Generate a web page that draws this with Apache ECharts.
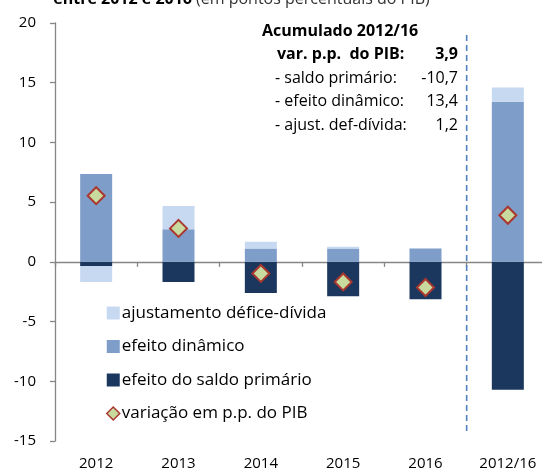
<!DOCTYPE html>
<html>
<head>
<meta charset="utf-8">
<script src="https://cdn.jsdelivr.net/npm/echarts@6/dist/echarts.min.js"></script>
<style>
html,body{margin:0;padding:0;background:#fff;}
#c{width:542px;height:474px;}
</style>
</head>
<body>
<div id="c"></div>
<script>
var categories = ['2012', '2013', '2014', '2015', '2016', '2012/16'];
var saldoPrimario = [-0.34, -1.68, -2.6, -2.88, -3.13, -10.7];
var efeitoDinamico = [7.36, 2.74, 1.12, 1.12, 1.12, 13.4];
var ajustamento = [-1.34, 1.93, 0.56, 0.14, 0, 1.2];
var variacaoPIB = [5.54, 2.8, -0.97, -1.68, -2.15, 3.9];
var yTicks = [-15, -10, -5, 0, 5, 10, 15, 20];
var seriesNames = ['efeito do saldo primário', 'efeito dinâmico', 'ajustamento défice-dívida', 'variação em p.p. do PIB'];
var annotTitle = 'Acumulado 2012/16';
var annotLabels = ['var. p.p.  do PIB:', '- saldo primário:', '- efeito dinâmico:', '- ajust. def-dívida:'];
var annotValues = ['3,9', '-10,7', '13,4', '1,2'];
var titleBold = 'entre 2012 e 2016';
var titleRest = '(em pontos percentuais do PIB)';

var FONT = '"Open Sans"';
var chart = echarts.init(document.getElementById('c'));

var option = {
  animation: false,
  textStyle: {fontFamily: FONT},
  grid: {left: 55, top: 23, height: 418, width: 494, containLabel: false, outerBoundsMode: 'none'},
  legend: {
    orient: 'vertical', left: 106, top: 304, padding: 0,
    itemWidth: 13, itemHeight: 13, itemGap: 15.5,
    data: [
      {name: seriesNames[2], icon: 'rect'},
      {name: seriesNames[1], icon: 'rect'},
      {name: seriesNames[0], icon: 'rect'},
      {name: seriesNames[3], icon: 'diamond', itemStyle: {borderWidth: 1.5}}
    ],
    textStyle: {fontFamily: FONT, fontSize: 17, color: '#000', lineHeight: 18, padding: [0, 0, 0, -3]}
  },
  xAxis: [{
    type: 'category', data: categories, boundaryGap: true,
    axisLine: {onZero: true, lineStyle: {color: '#868686', width: 1.3}},
    axisTick: {show: true, length: 5, alignWithLabel: false, lineStyle: {color: '#868686', width: 1.3}},
    axisLabel: {show: false}, splitLine: {show: false}
  }, {
    type: 'category', data: categories, position: 'bottom', boundaryGap: true,
    axisLine: {show: false, onZero: false}, axisTick: {show: false},
    axisLabel: {show: true, interval: 0, margin: 15, fontSize: 15, color: '#000', fontFamily: FONT},
    splitLine: {show: false}
  }],
  yAxis: {
    type: 'value', min: yTicks[0], max: yTicks[yTicks.length - 1], interval: 5,
    axisLine: {show: true, lineStyle: {color: '#868686', width: 1.3}},
    axisTick: {show: true, length: 5, lineStyle: {color: '#868686', width: 1.3}},
    axisLabel: {margin: 19, fontSize: 15, color: '#000', fontFamily: FONT},
    splitLine: {show: false}
  },
  series: [
    {name: seriesNames[0], type: 'bar', stack: 's', data: saldoPrimario, barWidth: 32,
     itemStyle: {color: '#1B375E'}},
    {name: seriesNames[1], type: 'bar', stack: 's', data: efeitoDinamico, barWidth: 32,
     itemStyle: {color: '#7F9DC9'}},
    {name: seriesNames[2], type: 'bar', stack: 's', data: ajustamento, barWidth: 32,
     itemStyle: {color: '#C6D9F1'}},
    {name: seriesNames[3], type: 'scatter', data: variacaoPIB, symbol: 'diamond', symbolSize: 17, z: 5,
     itemStyle: {color: '#C9DA9E', borderColor: '#A9372F', borderWidth: 2, opacity: 1}}
  ]
};
chart.setOption(option);

// Vertical dashed separator between 2016 and 2012/16
var p1 = chart.convertToPixel({xAxisIndex: 0}, categories[4]);
var p2 = chart.convertToPixel({xAxisIndex: 0}, categories[5]);
var sepX = (p1 + p2) / 2;

var graphics = [
  {type: 'line', shape: {x1: sepX, y1: 35, x2: sepX, y2: 431},
   style: {stroke: '#4F81BD', lineWidth: 1.6, lineDash: [6, 4]}, z: 10},
  {type: 'text', x: 192, y: -1, style: {text: titleBold, font: 'bold 16px ' + FONT, fill: '#000', textAlign: 'right', textVerticalAlign: 'middle'}},
  {type: 'text', x: 196, y: -1, style: {text: titleRest, font: '16px ' + FONT, fill: '#333', textAlign: 'left', textVerticalAlign: 'middle'}},
  {type: 'text', x: 262, y: 31, style: {text: annotTitle, font: 'bold 16px ' + FONT, fill: '#000', textAlign: 'left', textVerticalAlign: 'middle'}}
];
var rowY = [54, 78, 101, 125];
for (var i = 0; i < annotLabels.length; i++) {
  var bold = i === 0;
  graphics.push({type: 'text', x: bold ? 277 : 275, y: rowY[i],
    style: {text: annotLabels[i], font: (bold ? 'bold ' : '') + '16px ' + FONT, fill: '#000', textAlign: 'left', textVerticalAlign: 'middle'}});
  graphics.push({type: 'text', x: 458, y: rowY[i],
    style: {text: annotValues[i], font: (bold ? 'bold ' : '') + '16px ' + FONT, fill: '#000', textAlign: 'right', textVerticalAlign: 'middle'}});
}
chart.setOption({graphic: graphics});
</script>
</body>
</html>
